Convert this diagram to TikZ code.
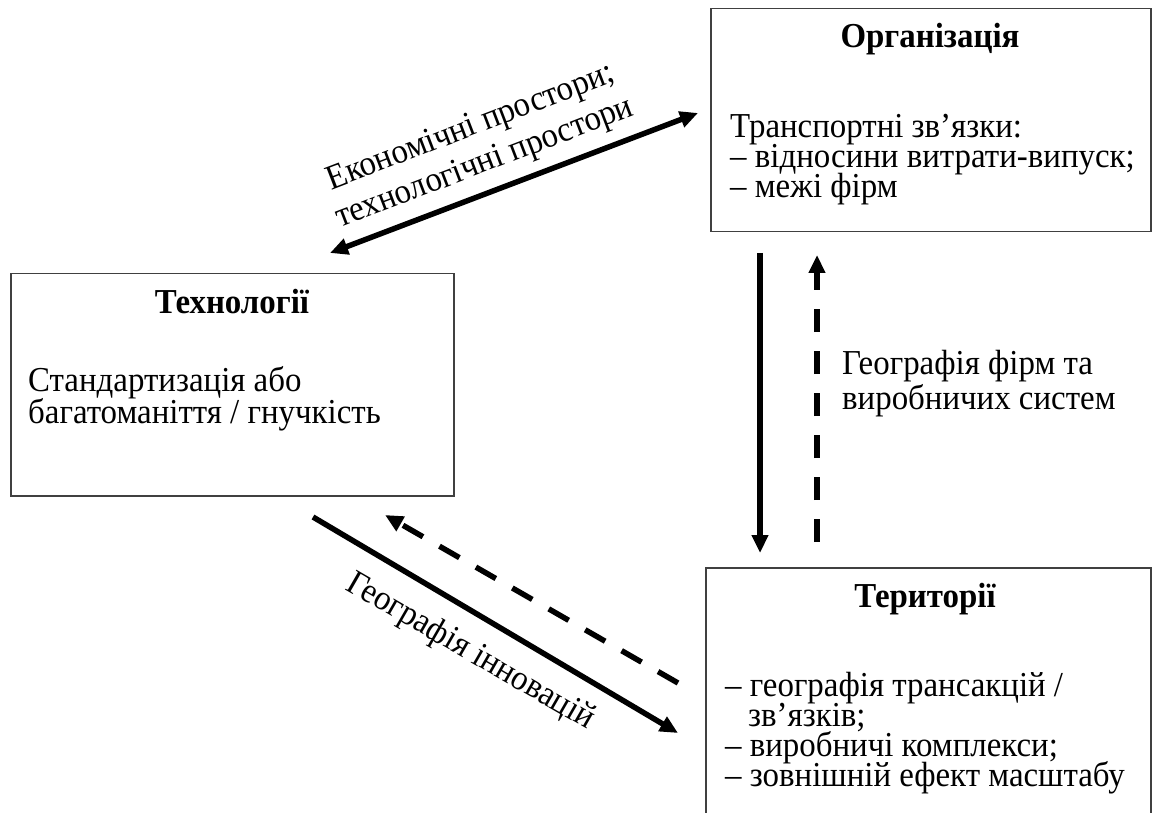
\documentclass[tikz,border=0pt]{standalone}
\usepackage{fontspec}
\setmainfont{Liberation Serif}[FakeStretch=0.94]
\usetikzlibrary{arrows.meta}
\begin{document}
\begin{tikzpicture}[x=1pt,y=-1pt,
  box/.style={draw=black!75, line width=1.5pt, rectangle, inner sep=0pt, anchor=north west},
  txt/.style={inner sep=0pt, anchor=base west, font=\fontsize{35}{34}\selectfont},
  ttl/.style={inner sep=0pt, anchor=base, font=\fontsize{35}{34}\selectfont\bfseries},
  lbl/.style={inner sep=0pt, anchor=center, font=\fontsize{35}{34}\selectfont},
  conn/.style={line width=5.5pt, -{Triangle[length=18pt,width=16pt]}},
  dconn/.style={conn, dash pattern=on 23pt off 19pt},
  bconn/.style={line width=5.5pt, {Triangle[length=18pt,width=16pt]}-{Triangle[length=18pt,width=16pt]}}
]
\useasboundingbox (0,0) rectangle (1152,813);
\clip (0,0) rectangle (1152,813);
\fill[white] (0,0) rectangle (1152,813);

% boxes
\node[box, minimum width=440pt, minimum height=223pt] (org) at (710,8) {};
\node[box, minimum width=443pt, minimum height=222pt] (tech) at (10,273) {};
\node[box, minimum width=445pt, minimum height=280pt] (terr) at (705,567) {};

% Organisation text
\node[ttl] (orgT) at (930,48) {Організація};
\node[txt] (org1) at (730,138) {Транспортні зв’язки:};
\node[txt] (org2) at (730,168) {– відносини витрати-випуск;};
\node[txt] (org3) at (730,198) {– межі фірм};

% Technology text
\node[ttl] (techT) at (232,313) {Технології};
\node[txt] (tech1) at (28,391) {Стандартизація або};
\node[txt] (tech2) at (28,423) {багатоманіття / гнучкість};

% Territory text
\node[ttl] (terrT) at (925,607) {Території};
\node[txt] (terr1) at (725,696) {– географія трансакцій /};
\node[txt] (terr2) at (748,726) {зв’язків;};
\node[txt] (terr3) at (725,756) {– виробничі комплекси;};
\node[txt] (terr4) at (725,786) {– зовнішній ефект масштабу};

% connector end points
\coordinate (a1) at (330,253);
\coordinate (a2) at (698,113);
\coordinate (b1) at (760,253);
\coordinate (b2) at (760,553);
\coordinate (c1) at (817,542);
\coordinate (c2) at (817,255);
\coordinate (d1) at (313,517);
\coordinate (d2) at (678,733);
\coordinate (e1) at (678,683);
\coordinate (e2) at (385,515);

\draw[bconn] (a1) -- (a2);
\draw[conn] (b1) -- (b2);
\draw[dconn] (c1) -- (c2);
\draw[conn] (d1) -- (d2);
\draw[dconn] (e1) -- (e2);

% labels
\node[lbl, rotate=21] (l1) at (471,128) {Економічні простори;};
\node[lbl, rotate=21] (l2) at (485,164) {технологічні простори};
\node[txt] (m1) at (842,374) {Географія фірм та};
\node[txt] (m2) at (842,409) {виробничих систем};
\node[lbl, rotate=-30] (l3) at (470,652) {Географія інновацій};
\end{tikzpicture}
\end{document}
